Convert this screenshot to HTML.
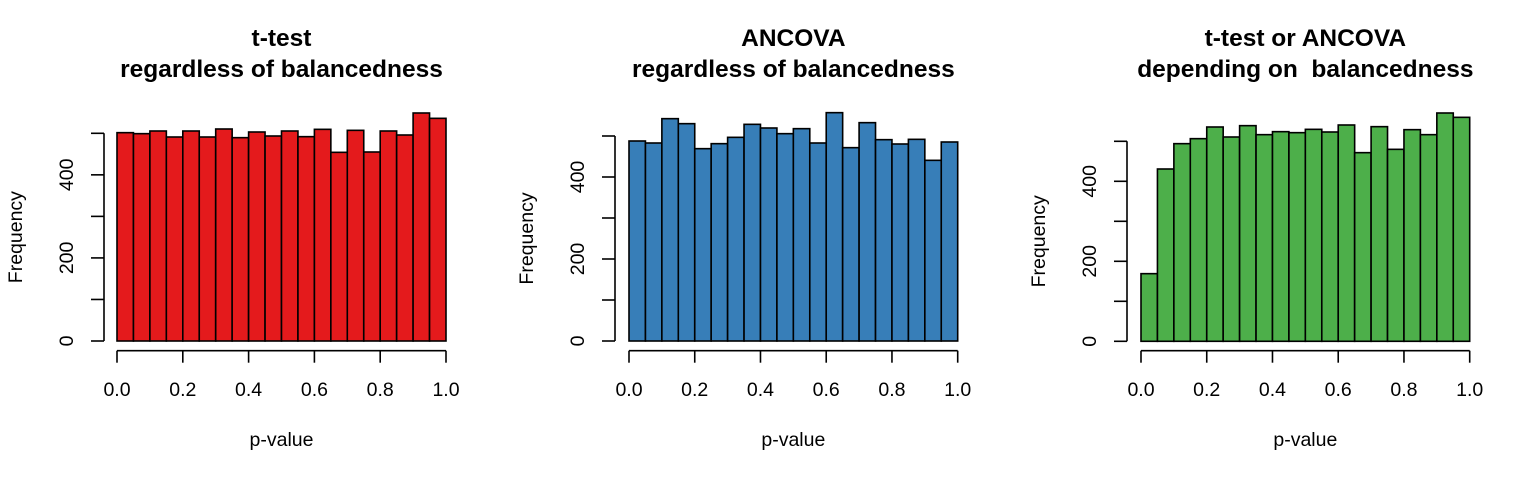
<!DOCTYPE html>
<html><head><meta charset="utf-8"><style>body{margin:0;background:#fff}svg{display:block}</style></head>
<body>
<svg id="s" width="1536" height="480" xmlns="http://www.w3.org/2000/svg" font-family="Liberation Sans, sans-serif"></svg>
<script>
const panels=[
 {x0:117,x1:446,base:341,t500:133.3,ax:104,col:"#E41A1C",t1:"t-test",t2:"regardless of balancedness",
  tops:[98,101,93,111,93,111,87,113,96,108,93,110,88,157,91,156,93,105,39,55]},
 {x0:629,x1:957.7,base:341,t500:136,ax:615,col:"#377EB8",t1:"ANCOVA",t2:"regardless of balancedness",
  tops:[123,129,56,71,146,131,112,73,84,101,86,129,38,143,68,119,132,118,181,126]},
 {x0:1141,x1:1469.7,base:341.3,t500:141.3,ax:1127,col:"#4DAF4A",t1:"t-test or ANCOVA",t2:"depending on  balancedness",
  tops:[521,207,131,116,81,111,77,104,95,98,88,96,75,158,80,148,89,104,39,52]}
];
let h="";
for(const p of panels){
 const w=(p.x1-p.x0)/20;
 p.tops.forEach((t,i)=>{const y=100+t/3;h+=`<rect x="${p.x0+i*w}" y="${y}" width="${w}" height="${p.base-y}" fill="${p.col}" stroke="#000" stroke-width="1.6"/>`;});
 h+=`<line x1="${p.ax}" y1="${p.t500}" x2="${p.ax}" y2="${p.base}" stroke="#000" stroke-width="1.6"/>`;
 const st=(p.base-p.t500)/5;
 for(let k=0;k<=5;k++){const y=p.base-k*st;h+=`<line x1="${p.ax-13}" y1="${y}" x2="${p.ax}" y2="${y}" stroke="#000" stroke-width="1.6"/>`;
  if(k%2==0)h+=`<text transform="translate(${p.ax-31},${y}) rotate(-90)" text-anchor="middle" font-size="19.5">${k*100}</text>`;}
 const ya=350.7;
 h+=`<line x1="${p.x0}" y1="${ya}" x2="${p.x1}" y2="${ya}" stroke="#000" stroke-width="1.6"/>`;
 for(let k=0;k<=5;k++){const x=p.x0+k*(p.x1-p.x0)/5;h+=`<line x1="${x}" y1="${ya}" x2="${x}" y2="${ya+12}" stroke="#000" stroke-width="1.6"/><text x="${x}" y="396" text-anchor="middle" font-size="19.5">${(k*0.2).toFixed(1)}</text>`;}
 h+=`<text x="${(p.x0+p.x1)/2}" y="446" text-anchor="middle" font-size="19.5">p-value</text>`;
 h+=`<text transform="translate(${p.ax-82},${(p.base+p.t500)/2}) rotate(-90)" text-anchor="middle" font-size="19.5">Frequency</text>`;
 h+=`<text x="${(p.x0+p.x1)/2}" y="46" text-anchor="middle" font-size="24.5" font-weight="bold">${p.t1}</text>`;
 h+=`<text x="${(p.x0+p.x1)/2}" y="77" text-anchor="middle" font-size="24.5" font-weight="bold" xml:space="preserve">${p.t2}</text>`;
}
document.getElementById("s").innerHTML=h;
</script>
</body></html>
